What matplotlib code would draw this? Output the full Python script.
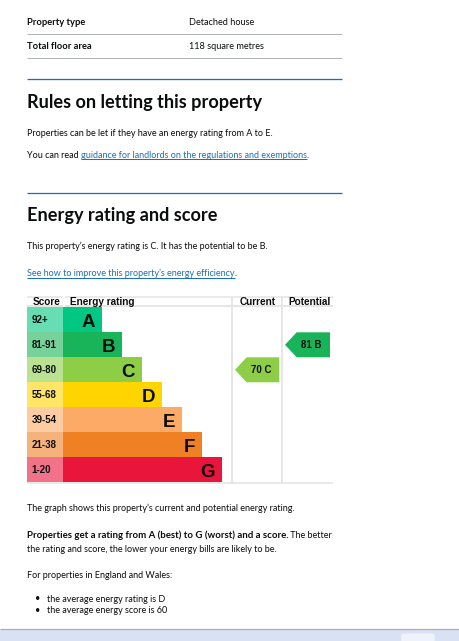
import matplotlib
matplotlib.use("Agg")
import matplotlib.pyplot as plt
from matplotlib.patches import Polygon, FancyBboxPatch, Rectangle
from matplotlib.colors import to_rgb

# ---------------- data ----------------
property_fields = ["Property type", "Total floor area"]
property_values = ["Detached house", "118 square metres"]

band_letters = ["A", "B", "C", "D", "E", "F", "G"]
score_ranges = ["92+", "81-91", "69-80", "55-68", "39-54", "21-38", "1-20"]
band_lower = [92, 81, 69, 55, 39, 21, 1]
band_colors = ["#00c781", "#19b459", "#8dce46", "#ffd500", "#fcaa65", "#ef8023", "#e9153b"]
header_labels = ["Score", "Energy rating", "Current", "Potential"]

current_score = 70
potential_score = 81
average_rating = "D"
average_score = 60

# ---------------- style ----------------
W, H = 459, 641
TXT = "#0b0c0c"
LINK = "#1d70b8"
BODY = "Lato"
CHART = "Liberation Sans"

fig = plt.figure(figsize=(W / 100, H / 100), dpi=100)
fig.patch.set_facecolor("white")
bg = fig.add_axes([0, 0, 1, 1])
bg.set_xlim(0, W)
bg.set_ylim(H, 0)
bg.axis("off")
R = fig.canvas.get_renderer()


def width_px(s, size, family, weight):
    t = bg.text(0, 0, s + "|", fontsize=size, family=family, weight=weight)
    w1 = t.get_window_extent(R).width
    t.set_text("|")
    w2 = t.get_window_extent(R).width
    t.remove()
    return w1 - w2


def fit(s, target, family, weight):
    return 10 * target / width_px(s, 10, family, weight)


body_size = fit("Properties can be let if they have an energy rating from A to E.", 247, BODY, "normal")
bold_size = fit("Properties get a rating from A (best) to G (worst) and a score.", 259, BODY, "bold")
head_size = fit("Rules on letting this property", 235, BODY, "bold")
tab_size = fit("Detached house", 66, BODY, "normal")
tabb_size = fit("Property type", 58, BODY, "bold")


def runs(x, y, pieces):
    for s, weight, size, link in pieces:
        col = LINK if link else TXT
        bg.text(x, y, s, fontsize=size, family=BODY, weight=weight, color=col,
                ha="left", va="baseline")
        w = width_px(s, size, BODY, weight)
        if link:
            bg.plot([x, x + w], [y + 1.8, y + 1.8], color=LINK, lw=0.75,
                    solid_capstyle="butt")
        x += w
    return x


def hline(y, x0, x1, color, lw_px):
    bg.plot([x0, x1], [y, y], color=color, lw=lw_px * 0.72, solid_capstyle="butt")


# ---------------- property table ----------------
for (f, v), yb in zip(zip(property_fields, property_values), [25, 49]):
    bg.text(27, yb, f, fontsize=tabb_size, family=BODY, weight="bold", color=TXT, va="baseline")
    bg.text(189, yb, v, fontsize=tab_size, family=BODY, color=TXT, va="baseline")
hline(34, 27, 342, "#b1b4b6", 1)
hline(57.5, 27, 342, "#b1b4b6", 1)

# ---------------- rules section ----------------
hline(78.5, 27, 342, LINK, 1.3)
bg.text(27, 108, "Rules on letting this property", fontsize=head_size, family=BODY,
        weight="bold", color=TXT, va="baseline")
runs(27, 136, [("Properties can be let if they have an energy rating from A to E.", "normal", body_size, False)])
runs(27, 157.5, [("You can read ", "normal", body_size, False),
                 ("guidance for landlords on the regulations and exemptions", "normal", body_size, True),
                 (".", "normal", body_size, False)])

# ---------------- energy rating section ----------------
hline(192.5, 27, 342, LINK, 1.3)
bg.text(27, 221, "Energy rating and score", fontsize=head_size, family=BODY,
        weight="bold", color=TXT, va="baseline")
cur_idx = next(i for i, lo in enumerate(band_lower) if current_score >= lo)
pot_idx = next(i for i, lo in enumerate(band_lower) if potential_score >= lo)
runs(27, 249, [(f"This property\u2019s energy rating is {band_letters[cur_idx]}. It has the potential to be {band_letters[pot_idx]}.",
                "normal", body_size, False)])
runs(27, 276.5, [("See how to improve this property\u2019s energy efficiency", "normal", body_size, True),
                 (".", "normal", body_size, False)])

# ---------------- EPC chart ----------------
T_LEFT, T_RIGHT = 26.7, 333.3
HDR_TOP, ROWS_TOP, ROWS_BOT = 296.5, 307.3, 482.3
SCORE_END = 62.7
COL_CUR, COL_POT = 232.0, 282.0

# header
hline(HDR_TOP + 0.5, T_LEFT, T_RIGHT, "#e6e6e6", 1.6)
hline(ROWS_TOP - 1.2, T_LEFT, T_RIGHT, "#e6e6e6", 2)
hline(ROWS_BOT + 0.6, T_LEFT, T_RIGHT, "#e6e6e6", 1.6)
bg.plot([SCORE_END + 1.3, SCORE_END + 1.3], [HDR_TOP - 0.5, ROWS_TOP], color="white", lw=1.6)
for xc in (COL_CUR, COL_POT):
    bg.plot([xc, xc], [HDR_TOP, ROWS_BOT + 1.4], color="#e6e6e6", lw=2 * 0.72,
            solid_capstyle="butt")
for lab, xh in zip(header_labels, [32.3, 70, 239.3, 288.3]):
    bg.text(xh, 305, lab, fontsize=7.2, family=CHART, weight="bold", color=TXT, va="baseline")

ax = fig.add_axes([T_LEFT / W, 1 - ROWS_BOT / H, (T_RIGHT - T_LEFT) / W, (ROWS_BOT - ROWS_TOP) / H])
ax.set_xlim(T_LEFT, T_RIGHT)
ax.set_ylim(len(band_letters) - 0.5, -0.5)
ax.axis("off")
ax.patch.set_alpha(0)

idx = list(range(len(band_letters)))
light = []
for c in band_colors:
    r, g, b = to_rgb(c)
    light.append((0.6 * r + 0.4, 0.6 * g + 0.4, 0.6 * b + 0.4))
ax.barh(idx, [SCORE_END - T_LEFT] * len(idx), left=T_LEFT, height=1.0, color=light, linewidth=0)
bar_len = [39 + 20 * i for i in idx]
ax.barh(idx, bar_len, left=SCORE_END, height=1.0, color=band_colors, linewidth=0)

cap_letter = 13.5 * 0.716 / 2
cap_small = 7.0 * 0.716 / 2
for i in idx:
    ax.annotate(score_ranges[i], xy=(31.7, i), xytext=(0, -cap_small), textcoords="offset points",
                fontsize=7.0, family=CHART, weight="bold", color=TXT, ha="left", va="baseline")
    ax.annotate(band_letters[i], xy=(SCORE_END + bar_len[i] - 6.5, i), xytext=(0, -cap_letter),
                textcoords="offset points", fontsize=13.5, family=CHART, weight="bold",
                color=TXT, ha="right", va="baseline")


def arrow(i, tip, flat, right, label):
    poly = Polygon([(tip, i), (flat, i - 0.5), (right, i - 0.5), (right, i + 0.5), (flat, i + 0.5)],
                   closed=True, fc=band_colors[i], ec="none")
    ax.add_patch(poly)
    ax.annotate(label, xy=((flat + right) / 2 - 2, i), xytext=(0, -cap_small), textcoords="offset points",
                fontsize=7.0, family=CHART, weight="bold", color=TXT, ha="center", va="baseline")


arrow(cur_idx, 235.0, 246.7, 279.3, f"{current_score} {band_letters[cur_idx]}")
arrow(pot_idx, 285.0, 296.7, 330.0, f"{potential_score} {band_letters[pot_idx]}")

# ---------------- explanation ----------------
runs(27, 511, [("The graph shows this property\u2019s current and potential energy rating.", "normal", body_size, False)])
runs(27, 538, [("Properties get a rating from A (best) to G (worst) and a score.", "bold", bold_size, False),
               (" The better", "normal", body_size, False)])
runs(27, 551.5, [("the rating and score, the lower your energy bills are likely to be.", "normal", body_size, False)])
runs(27, 578, [("For properties in England and Wales:", "normal", body_size, False)])
for yb, s in zip([601.5, 613], [f"the average energy rating is {average_rating}",
                                f"the average energy score is {average_score}"]):
    bg.text(34.5, yb, "\u2022", fontsize=body_size, family=BODY, color=TXT, va="baseline")
    runs(47, yb, [(s, "normal", body_size, False)])

# ---------------- bottom bar ----------------
bg.add_patch(Rectangle((0, 629), W, 13, fc="#d8e2f4", ec="none"))
hline(628.8, 0, W, "#a8aeb9", 1.2)
bg.add_patch(FancyBboxPatch((401, 633.5), 34, 10, boxstyle="round,pad=0,rounding_size=2",
                            fc="#eef2fa", ec="#dfe5f0", lw=0.5))

fig.savefig("out.png", dpi=100, facecolor="white")
